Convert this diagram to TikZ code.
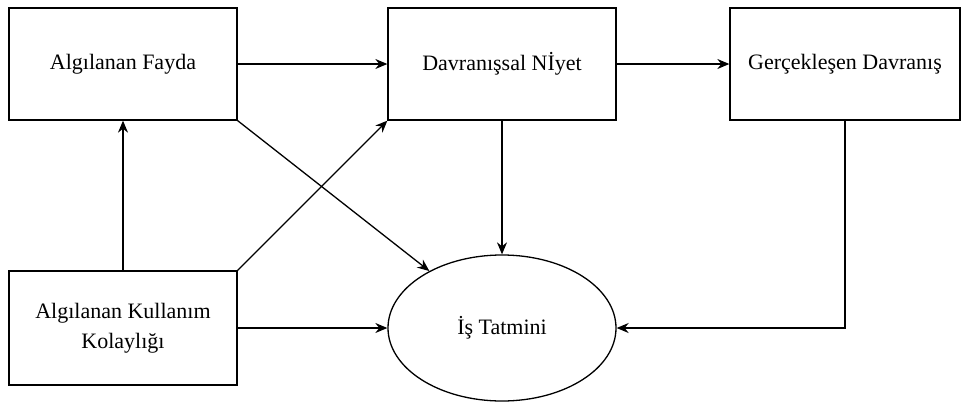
\documentclass[tikz,border=0pt]{standalone}
\usepackage{fontspec}
\setmainfont{Liberation Serif}
\usetikzlibrary{
  arrows.meta,
  positioning,
  shapes.geometric
}
\tikzset{>={Stealth[length=12pt,width=10pt]}}
\tikzset{
  kutu/.style={draw,line width=1.3pt,minimum width=228pt,minimum height=112pt,align=center,font=\fontsize{22}{30}\selectfont},
  elips/.style={draw,ellipse,line width=1.3pt,minimum width=228pt,minimum height=146pt,font=\fontsize{22}{30}\selectfont},
  ok/.style={->,line width=1.3pt}
}

\begin{document}
\begin{tikzpicture}[x=1pt,y=-1pt]
			\useasboundingbox (0,0) rectangle (967,410);

			\node[kutu] (fayda) at (123,64) {Algılanan Fayda};
			\node[kutu] (niyet) at (502,64) {Davranışsal Nİyet};
			\node[kutu,minimum width=230pt] (davranis) at (845,64) {Gerçekleşen Davranış};
			\node[kutu,minimum height=114pt] (kolaylik) at (123,328) {Algılanan Kullanım\\Kolaylığı};
			\node[elips] (tatmin) at (502,328) {İş Tatmini};

			\draw[ok] (fayda) -- (niyet);
			\draw[ok] (niyet) -- (davranis);
			\draw[ok] (kolaylik) -- (fayda);
			\draw[ok] (kolaylik.north east) -- (niyet.south west);
			\draw[ok] (fayda.south east) -- (tatmin);
			\draw[ok] (niyet) -- (tatmin);
			\draw[ok] (kolaylik) -- (tatmin);
			\draw[ok] (davranis.south) |- (tatmin.east);
		\end{tikzpicture}
\end{document}
